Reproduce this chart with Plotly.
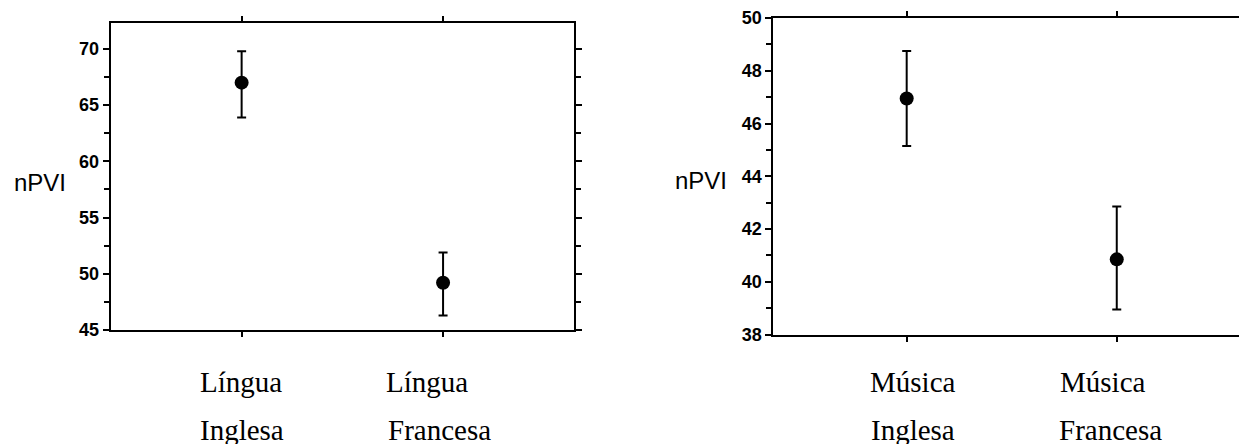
import plotly.graph_objects as go

# ---- data ----
lingua_cats = ["Língua Inglesa", "Língua Francesa"]
lingua_line1 = ["Língua", "Língua"]
lingua_line2 = ["Inglesa", "Francesa"]
lingua_mean = [67.0, 49.2]
lingua_upper = [69.8, 51.9]
lingua_lower = [63.9, 46.3]

musica_cats = ["Música Inglesa", "Música Francesa"]
musica_line1 = ["Música", "Música"]
musica_line2 = ["Inglesa", "Francesa"]
musica_mean = [46.95, 40.85]
musica_upper = [48.75, 42.85]
musica_lower = [45.15, 38.95]

y_title = "nPVI"

# page is 1247x444; the html body adds an 8px margin at top-left
OFF = 8
W, H = 1247, 444

fig = go.Figure()

def add_panel(cats, mean, upper, lower, xa, ya):
    fig.add_trace(go.Scatter(
        x=cats, y=mean, mode="markers",
        marker=dict(size=14, color="black"),
        error_y=dict(type="data", symmetric=False,
                     array=[u - m for u, m in zip(upper, mean)],
                     arrayminus=[m - l for m, l in zip(mean, lower)],
                     color="black", thickness=2, width=4.5),
        xaxis=xa, yaxis=ya, showlegend=False, hoverinfo="skip"))

add_panel(lingua_cats, lingua_mean, lingua_upper, lingua_lower, "x", "y")
add_panel(musica_cats, musica_mean, musica_upper, musica_lower, "x2", "y2")

tickfont = dict(family="Liberation Sans, Arial", size=18, color="black", weight="bold")

def px_x(a, b):
    return [(a - OFF) / W, min(1.0, (b - OFF) / W)]

def px_y(top, bottom):
    return [(H - (bottom - OFF)) / H, (H - (top - OFF)) / H]

def pap_x(p):
    return (p - OFF) / W

def pap_y(p):
    return (H - (p - OFF)) / H

common_x = dict(type="category", showline=True, linecolor="black", linewidth=2,
                mirror="ticks", ticks="outside", ticklen=5, tickwidth=1.5,
                tickcolor="black", showticklabels=False, showgrid=False,
                zeroline=False, range=[-0.65, 1.65], automargin=False)

fig.update_layout(
    template="plotly_white",
    width=W, height=H,
    margin=dict(l=0, r=0, t=0, b=0, pad=0, autoexpand=False),
    paper_bgcolor="white", plot_bgcolor="white",
    xaxis=dict(common_x, domain=px_x(110.7, 574), anchor="y"),
    yaxis=dict(domain=px_y(22.5, 330), anchor="x", range=[45, 72.35],
               tick0=45, dtick=5, showline=True, linecolor="black", linewidth=2,
               mirror="ticks", ticks="outside", ticklen=6, tickwidth=2,
               tickcolor="black", tickfont=tickfont, showgrid=False, zeroline=False,
               ticklabelstandoff=0, automargin=False, ticklabeloverflow="allow",
               minor=dict(dtick=2.5, tick0=45, ticks="outside", ticklen=5,
                          tickwidth=2, tickcolor="black", showgrid=False)),
    xaxis2=dict(common_x, domain=px_x(773.3, 1247), anchor="y2", range=[-0.635, 1.62]),
    yaxis2=dict(domain=px_y(18, 334.5), anchor="x2", range=[38, 50],
                tick0=38, dtick=2,
                showline=True, linecolor="black", linewidth=2,
                mirror=False, ticks="outside", ticklen=6, tickwidth=2,
                tickcolor="black", tickfont=tickfont, showgrid=False, zeroline=False,
                ticklabelstandoff=0, automargin=False, ticklabeloverflow="allow",
                minor=dict(dtick=1, tick0=38, ticks="outside", ticklen=5,
                           tickwidth=2, tickcolor="black", showgrid=False)),
)

serif = dict(family="Liberation Serif, Times New Roman", size=29, color="black")
ann = []
def cat_labels(cats, l1, l2, xref, shifts1, shifts2):
    for c, a, b, s1, s2 in zip(cats, l1, l2, shifts1, shifts2):
        ann.append(dict(x=c, y=pap_y(382), xref=xref, yref="paper", text=a,
                        showarrow=False, xanchor="left", yanchor="middle",
                        xshift=s1, font=serif))
        ann.append(dict(x=c, y=pap_y(430), xref=xref, yref="paper", text=b,
                        showarrow=False, xanchor="left", yanchor="middle",
                        xshift=s2, font=serif))

cat_labels(lingua_cats, lingua_line1, lingua_line2, "x", [-44, -59], [-44, -57])
cat_labels(musica_cats, musica_line1, musica_line2, "x2", [-39, -59], [-38, -60])

titlefont = dict(family="Liberation Sans, Arial", size=24, color="black")
ann.append(dict(x=pap_x(40), y=pap_y(182.7), xref="paper", yref="paper", text=y_title,
                showarrow=False, xanchor="center", yanchor="middle", font=titlefont))
ann.append(dict(x=pap_x(701), y=pap_y(180), xref="paper", yref="paper", text=y_title,
                showarrow=False, xanchor="center", yanchor="middle", font=titlefont))

fig.update_layout(annotations=ann)

fig.write_html("out.html")
